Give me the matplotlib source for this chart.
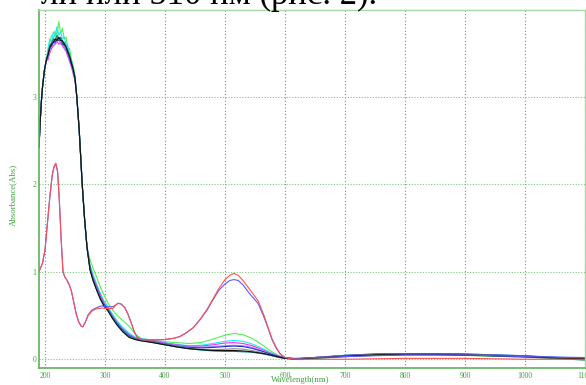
import numpy as np
import matplotlib
matplotlib.use('Agg')
import matplotlib.pyplot as plt

plt.rcParams['font.family'] = ['Liberation Serif', 'DejaVu Serif']

# --- two samples with the 218 / 515 nm bands (red, blue) ---
wl_a = [190, 193, 196, 200, 204, 208, 212, 215, 218, 221, 224, 227, 230, 233, 237,
        241, 244, 248, 252, 256, 260, 263, 267, 272, 278, 283, 290, 295, 300, 306,
        313, 318, 322, 327, 333, 338, 344, 349, 353, 358, 365, 380, 400, 415, 425,
        435, 447, 458, 470, 480, 490, 500, 508, 515, 522, 530, 542, 555, 565, 572,
        578, 585, 592, 600, 615, 650, 700, 800, 900, 1000, 1100]
red_a = [1.00, 1.05, 1.10, 1.25, 1.55, 1.85, 2.10, 2.20, 2.24, 2.15, 1.80, 1.36, 1.00, 0.94, 0.90,
         0.84, 0.78, 0.65, 0.52, 0.43, 0.38, 0.37, 0.42, 0.50, 0.55, 0.57, 0.58, 0.585, 0.58, 0.58,
         0.58, 0.62, 0.64, 0.63, 0.59, 0.52, 0.41, 0.31, 0.26, 0.23, 0.22, 0.22, 0.225, 0.24, 0.26,
         0.30, 0.36, 0.45, 0.57, 0.69, 0.81, 0.91, 0.96, 0.98, 0.96, 0.90, 0.79, 0.67, 0.50, 0.36,
         0.24, 0.14, 0.06, 0.02, 0.0, 0.0, 0.0, 0.01, 0.01, 0.0, 0.0]
blue_a = [1.00, 1.05, 1.10, 1.25, 1.55, 1.85, 2.10, 2.20, 2.23, 2.14, 1.80, 1.36, 1.00, 0.94, 0.90,
          0.84, 0.78, 0.65, 0.52, 0.43, 0.38, 0.37, 0.42, 0.51, 0.56, 0.58, 0.60, 0.61, 0.60, 0.60,
          0.60, 0.62, 0.64, 0.63, 0.59, 0.52, 0.41, 0.31, 0.26, 0.23, 0.22, 0.22, 0.225, 0.24, 0.26,
          0.30, 0.36, 0.45, 0.56, 0.68, 0.79, 0.86, 0.90, 0.91, 0.90, 0.85, 0.74, 0.64, 0.48, 0.35,
          0.23, 0.13, 0.06, 0.02, 0.01, 0.02, 0.03, 0.05, 0.05, 0.03, 0.02]

# --- the other samples (strong band near 225 nm) ---
wl_b_left = [190, 192, 194, 196, 199, 202]
b_left = [2.42, 2.72, 2.95, 3.12, 3.30, 3.41]
wl_b_peak = [205, 208, 211, 214, 217, 220, 223, 226, 229, 232, 235, 238, 241, 244, 247, 250]
wl_b_mid = [253, 257, 262, 266, 270]
b_mid = [3.0, 2.62, 2.0, 1.6, 1.28]
wl_b_tail = [275, 280, 286, 292, 298, 305, 312, 320, 330, 340, 350, 360, 380, 400, 420,
             440, 460, 480, 500, 515, 530, 545, 560, 575, 590, 600, 620, 650, 700, 750,
             800, 850, 900, 950, 1000, 1050, 1100]

peak_green = [3.52, 3.62, 3.70, 3.66, 3.75, 3.70, 3.86, 3.72, 3.78, 3.66, 3.68, 3.56, 3.55, 3.42, 3.36, 3.24]
peak_cyan = [3.55, 3.66, 3.62, 3.74, 3.68, 3.80, 3.70, 3.74, 3.66, 3.68, 3.60, 3.58, 3.48, 3.42, 3.32, 3.22]
peak_magenta = [3.42, 3.50, 3.55, 3.58, 3.60, 3.63, 3.60, 3.62, 3.58, 3.55, 3.52, 3.46, 3.40, 3.34, 3.26, 3.18]
peak_violet = [3.46, 3.54, 3.60, 3.58, 3.64, 3.62, 3.66, 3.60, 3.62, 3.56, 3.54, 3.48, 3.42, 3.36, 3.28, 3.19]
peak_blue = [3.47, 3.55, 3.58, 3.63, 3.62, 3.67, 3.64, 3.66, 3.60, 3.59, 3.55, 3.50, 3.44, 3.37, 3.29, 3.20]
peak_gray = [3.50, 3.57, 3.62, 3.64, 3.65, 3.68, 3.65, 3.67, 3.62, 3.61, 3.55, 3.52, 3.45, 3.39, 3.30, 3.21]
peak_teal = [3.49, 3.58, 3.61, 3.66, 3.64, 3.70, 3.66, 3.68, 3.63, 3.62, 3.58, 3.53, 3.47, 3.40, 3.32, 3.22]
peak_black = [3.48, 3.56, 3.60, 3.62, 3.66, 3.64, 3.68, 3.64, 3.64, 3.60, 3.57, 3.51, 3.46, 3.38, 3.31, 3.21]

tail_green = [1.14, 1.04, 0.94, 0.83, 0.74, 0.64, 0.57, 0.50, 0.44, 0.38, 0.29, 0.24, 0.215, 0.20, 0.19,
              0.18, 0.19, 0.23, 0.275, 0.295, 0.28, 0.24, 0.175, 0.10, 0.04, 0.015, 0.0, 0.01, 0.03, 0.045,
              0.05, 0.05, 0.045, 0.035, 0.025, 0.01, 0.0]
tail_cyan = [1.08, 0.97, 0.86, 0.76, 0.67, 0.60, 0.52, 0.44, 0.36, 0.30, 0.255, 0.235, 0.215, 0.19, 0.17,
             0.155, 0.16, 0.18, 0.205, 0.215, 0.205, 0.175, 0.13, 0.08, 0.035, 0.015, 0.005, 0.02, 0.045, 0.06,
             0.065, 0.065, 0.06, 0.05, 0.04, 0.025, 0.01]
tail_magenta = [1.06, 0.94, 0.84, 0.74, 0.65, 0.58, 0.50, 0.42, 0.345, 0.285, 0.245, 0.23, 0.21, 0.185, 0.165,
                0.15, 0.15, 0.165, 0.185, 0.19, 0.18, 0.155, 0.115, 0.07, 0.035, 0.015, 0.005, 0.02, 0.04, 0.055,
                0.06, 0.06, 0.055, 0.045, 0.035, 0.02, 0.0]
tail_violet = [1.05, 0.93, 0.82, 0.72, 0.64, 0.58, 0.50, 0.42, 0.34, 0.28, 0.24, 0.225, 0.205, 0.18, 0.16,
               0.145, 0.14, 0.145, 0.155, 0.16, 0.155, 0.135, 0.10, 0.065, 0.03, 0.015, 0.005, 0.02, 0.04, 0.055,
               0.06, 0.06, 0.055, 0.045, 0.035, 0.02, 0.0]
tail_blue = [1.04, 0.92, 0.81, 0.71, 0.63, 0.57, 0.49, 0.41, 0.33, 0.27, 0.235, 0.22, 0.20, 0.175, 0.15,
             0.135, 0.13, 0.135, 0.145, 0.15, 0.145, 0.125, 0.095, 0.06, 0.03, 0.015, 0.005, 0.02, 0.045, 0.06,
             0.065, 0.065, 0.06, 0.05, 0.04, 0.02, 0.005]
tail_gray = [1.03, 0.91, 0.80, 0.70, 0.62, 0.56, 0.48, 0.40, 0.32, 0.26, 0.23, 0.215, 0.195, 0.17, 0.145,
             0.125, 0.115, 0.11, 0.115, 0.12, 0.115, 0.10, 0.08, 0.05, 0.025, 0.01, 0.005, 0.02, 0.04, 0.055,
             0.06, 0.06, 0.055, 0.045, 0.035, 0.02, 0.01]
tail_teal = [1.03, 0.91, 0.80, 0.70, 0.62, 0.56, 0.48, 0.40, 0.32, 0.26, 0.23, 0.215, 0.19, 0.165, 0.14,
             0.12, 0.105, 0.095, 0.09, 0.09, 0.085, 0.08, 0.065, 0.045, 0.02, 0.01, 0.0, 0.01, 0.03, 0.045,
             0.05, 0.05, 0.045, 0.035, 0.025, 0.01, -0.01]
tail_black = [1.02, 0.90, 0.79, 0.69, 0.61, 0.55, 0.47, 0.39, 0.31, 0.25, 0.225, 0.21, 0.19, 0.165, 0.14,
              0.12, 0.11, 0.10, 0.10, 0.10, 0.095, 0.085, 0.07, 0.05, 0.025, 0.01, 0.0, 0.015, 0.035, 0.05,
              0.055, 0.055, 0.05, 0.04, 0.03, 0.015, 0.005]

samples_b = [
    ('#50f050', peak_green, tail_green),
    ('#20e8f0', peak_cyan, tail_cyan),
    ('#f030f0', peak_magenta, tail_magenta),
    ('#9a8cff', peak_violet, tail_violet),
    ('#3030c8', peak_blue, tail_blue),
    ('#909090', peak_gray, tail_gray),
    ('#108070', peak_teal, tail_teal),
    ('#101010', peak_black, tail_black),
]

xticks = [200, 300, 400, 500, 600, 700, 800, 900, 1000, 1100]
yticks = [0, 1, 2, 3]

green = '#3f9f3f'

fig = plt.figure(figsize=(5.86, 3.85), dpi=100)
ax = fig.add_axes([39 / 586, 17 / 385, 546 / 586, 358 / 385])

wl_b = wl_b_left + wl_b_peak + wl_b_mid + wl_b_tail
for color, pk, tl in samples_b:
    ax.plot(wl_b, b_left + pk + b_mid + tl, color=color, lw=0.8)

ax.plot(wl_a, blue_a, color='#5a5aff', lw=0.8)
ax.plot(wl_a, red_a, color='#ff5050', lw=0.8)

ax.set_xlim(190, 1100)
ax.set_ylim(-0.1, 3.99)
ax.set_xticks(xticks)
ax.set_yticks(yticks)
ax.tick_params(length=0, labelsize=5.5, colors=green)
ax.tick_params(axis='x', pad=3)
ax.tick_params(axis='y', pad=2)
for lab in ax.get_xticklabels():
    lab.set_clip_on(False)

ax.xaxis.grid(True, color='#4caf50', linestyle=(0, (1, 2)), lw=0.8)
ax.yaxis.grid(True, color='#7cc87c', linestyle=(0, (1, 1.5)), lw=0.8)

for side in ['left', 'bottom']:
    ax.spines[side].set_color('#5fb05f')
    ax.spines[side].set_linewidth(1.2)
for side in ['top', 'right']:
    ax.spines[side].set_color('#a8d8a8')
    ax.spines[side].set_linewidth(1.0)

fig.text(300 / 586, 1 / 385, 'Wavelength(nm)', color=green, fontsize=6.3,
         ha='center', va='bottom')
fig.text(13 / 586, 190 / 385, 'Absorbance(Abs)', color=green, fontsize=6.3,
         ha='center', va='center', rotation=90)

# line of document text cut off above the chart
fig.text(377 / 586, 381 / 385, 'ли или 510 нм (рис. 2).', color='black',
         fontsize=25, ha='right', va='baseline')

fig.savefig('out.png', dpi=100)
